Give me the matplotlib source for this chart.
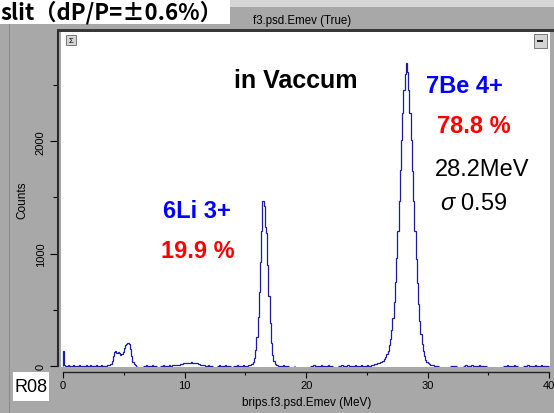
import numpy as np
import matplotlib.pyplot as plt
from matplotlib.patches import Rectangle
from matplotlib.ticker import MultipleLocator

plt.rcParams['font.family'] = ['Liberation Sans', 'DejaVu Sans']
plt.rcParams['mathtext.fontset'] = 'custom'
plt.rcParams['mathtext.rm'] = 'Liberation Sans'
plt.rcParams['mathtext.it'] = 'Liberation Sans:italic'

# brips.f3.psd.Emev, 0.1 MeV per channel from 0 to 40 MeV
e_min, e_max = 0.0, 40.0
counts = [
    130, 2, 1, 1, 2, 1, 1, 1, 2, 1, 1, 1, 1, 2, 1, 1, 1, 1, 1, 2,            # 0-2
    1, 1, 2, 1, 1, 1, 1, 2, 1, 1, 1, 2, 1, 1, 1, 1, 2, 2, 4, 15,             # 2-4
    45, 90, 120, 128, 115, 126, 110, 98, 102, 120,
    160, 188, 196, 198, 190, 150, 85, 35, 12, 4,                             # 4-6
    1, 0, 0, 0, 0, 0, 1, 1, 2, 1, 1, 1, 1, 2, 1, 1, 1, 0, 0, 0,              # 6-8
    1, 1, 2, 1, 1, 1, 1, 2, 1, 1, 2, 2, 4, 6, 8, 10, 13, 16, 18, 20,         # 8-10
    22, 24, 26, 27, 28, 29, 28, 27, 26, 24, 20, 16, 12, 8, 5, 3, 2, 1, 1, 2, # 10-12
    1, 1, 1, 0, 0, 0, 0, 1, 2, 1, 1, 1, 1, 2, 1, 1, 1, 1, 0, 0,              # 12-14
    1, 1, 1, 2, 1, 1, 1, 1, 2, 1, 1, 1, 2, 3, 5, 12, 30, 70, 140, 260,       # 14-16
    430, 660, 920, 1200, 1465, 1420, 1240, 1180, 900, 620,
    380, 200, 95, 40, 15, 5, 2, 1, 1, 1,                                     # 16-18
    1, 2, 1, 1, 1, 1, 0, 0, 0, 0, 1, 0, 0, 0, 0, 0, 0, 0, 0, 0,              # 18-20
    0, 0, 0, 1, 1, 1, 2, 1, 1, 1, 1, 1, 2, 1, 1, 1, 1, 1, 2, 1,              # 20-22
    1, 1, 0, 0, 0, 0, 1, 1, 1, 2, 1, 1, 1, 1, 2, 1, 1, 1, 1, 1,              # 22-24
    2, 1, 1, 1, 1, 2, 1, 1, 1, 1, 2, 1, 1, 3, 5, 8, 12, 16, 20, 24,          # 24-26
    28, 32, 38, 45, 55, 75, 100, 135, 180, 240,
    320, 425, 565, 745, 960, 1205, 1470, 1745, 2010, 2255,                   # 26-28
    2460, 2600, 2700, 2620, 2460, 2250, 2010, 1740, 1465, 1200,
    950, 735, 550, 400, 285, 195, 130, 85, 54, 33,                           # 28-30
    20, 11, 6, 3, 2, 1, 1, 1, 1, 0, 0, 0, 0, 0, 0, 0, 0, 0, 1, 1,            # 30-32
    1, 1, 1, 1, 0, 0, 0, 0, 0, 1, 1, 2, 1, 1, 1, 1, 2, 1, 1, 1,              # 32-34
    1, 1, 2, 1, 1, 1, 1, 1, 1, 0, 0, 0, 0, 0, 0, 0, 0, 0, 0, 0,              # 34-36
    0, 0, 1, 1, 1, 2, 1, 1, 1, 1, 1, 2, 1, 1, 0, 0, 0, 0, 1, 1,              # 36-38
    1, 1, 2, 1, 1, 1, 1, 1, 2, 1, 1, 1, 1, 2, 1, 1, 1, 1, 1, 1,              # 38-40
]

# peak annotations: (x MeV, y counts, text, colour, weight, size)
labels = [
    (19.16, 2486, 'in Vaccum', 'black', 'bold', 18),
    (33.06, 2441, '7Be 4+', '#0000ff', 'bold', 17),
    (33.80, 2084, '78.8 %', '#ff0000', 'bold', 17),
    (34.50, 1703, '28.2MeV', 'black', 'normal', 17),
    (33.76, 1399, r'$\sigma$ 0.59', 'black', 'normal', 17),
    (10.98, 1325, '6Li 3+', '#0000ff', 'bold', 17),
    (11.06, 968, '19.9 %', '#ff0000', 'bold', 17),
]

W, H = 554, 414
fig = plt.figure(figsize=(W / 100, H / 100), dpi=100, facecolor='#a8a8a8')

# window frame drawn in pixel units
bg = fig.add_axes([0, 0, 1, 1], zorder=-5)
bg.set_xlim(0, W)
bg.set_ylim(H, 0)
bg.axis('off')
bg.add_patch(Rectangle((230, 0), W - 230, 8, color='#d6d6d6', lw=0))
bg.add_patch(Rectangle((57, 29.5), W - 57, 3, color='#383838', lw=0))
bg.add_patch(Rectangle((0, 0), 230, 25, color='white', lw=0))
bg.plot([8.5, 8.5], [25, H], color='#8c8c8c', lw=0.8)
bg.add_patch(Rectangle((13, 373), 36, 29, color='white', lw=0))
bg.text(31, 388, 'R08', fontsize=13, ha='center', va='center')
bg.text(0.5, 19.5, 'slit（dP/P=±0.6%）', family=['Noto Sans CJK JP', 'DejaVu Sans'],
        weight='bold', fontsize=16, va='baseline', ha='left')
bg.text(302, 21, 'f3.psd.Emev (True)', fontsize=8.3, ha='center', va='center')

ax = fig.add_axes([61 / W, 1 - 368 / H, 489 / W, 335.5 / H])
edges = np.linspace(e_min, e_max, len(counts) + 1)
vals = np.array(counts, dtype=float)
vals[vals == 0] = np.nan
ax.stairs(vals, edges, color='#1c1ca0', lw=0.9)

ax.set_xlim(-0.165, 40.06)
ax.set_ylim(-12, 2980)
ax.spines['top'].set_visible(False)
ax.spines['right'].set_visible(False)
ax.spines['left'].set_position(('outward', 2.2))
ax.spines['left'].set_linewidth(1.5)
ax.spines['left'].set_color('#2a2a2a')
ax.spines['left'].set_bounds(-2, 2980)
ax.spines['bottom'].set_position(('outward', 3.6))
ax.spines['bottom'].set_bounds(0, 40)
ax.spines['bottom'].set_linewidth(1.0)
ax.spines['bottom'].set_color('#222222')

ax.xaxis.set_major_locator(MultipleLocator(10))
ax.xaxis.set_minor_locator(MultipleLocator(5))
ax.yaxis.set_major_locator(MultipleLocator(1000))
ax.yaxis.set_minor_locator(MultipleLocator(500))
ax.tick_params(axis='x', which='major', length=4, width=0.8, pad=2, labelsize=8)
ax.tick_params(axis='x', which='minor', length=2.2, width=0.8)
ax.tick_params(axis='y', which='major', length=5.8, width=0.8, pad=3, labelsize=8,
               labelrotation=90)
ax.tick_params(axis='y', which='minor', length=3.6, width=0.8)
for lbl in ax.get_yticklabels():
    lbl.set_va('center')

ax.set_xlabel('brips.f3.psd.Emev (MeV)', fontsize=8.5)
ax.xaxis.set_label_coords(0.503, -0.104)
ax.xaxis.label.set_va('center')
ax.set_ylabel('Counts', fontsize=8.5)
ax.yaxis.set_label_coords(-0.08, 0.5)
ax.yaxis.label.set_va('center')

for x, y, s, c, w, fs in labels:
    ax.text(x, y, s, color=c, weight=w, fontsize=fs, ha='center', va='baseline')

# corner buttons
fg = fig.add_axes([0, 0, 1, 1], zorder=5)
fg.set_xlim(0, W)
fg.set_ylim(H, 0)
fg.axis('off')
fg.add_patch(Rectangle((66, 36), 10, 10, fc='#d4d4d4', ec='#7a7a7a', lw=0.7))
fg.text(71, 41.5, 'Σ', fontsize=5.5, ha='center', va='center')
fg.add_patch(Rectangle((534, 35), 13, 14, fc='#d4d4d4', ec='#7a7a7a', lw=0.7))
fg.add_patch(Rectangle((537, 40.5), 6, 2, fc='#202020', lw=0))

fig.savefig('out.png', dpi=100, facecolor=fig.get_facecolor())
